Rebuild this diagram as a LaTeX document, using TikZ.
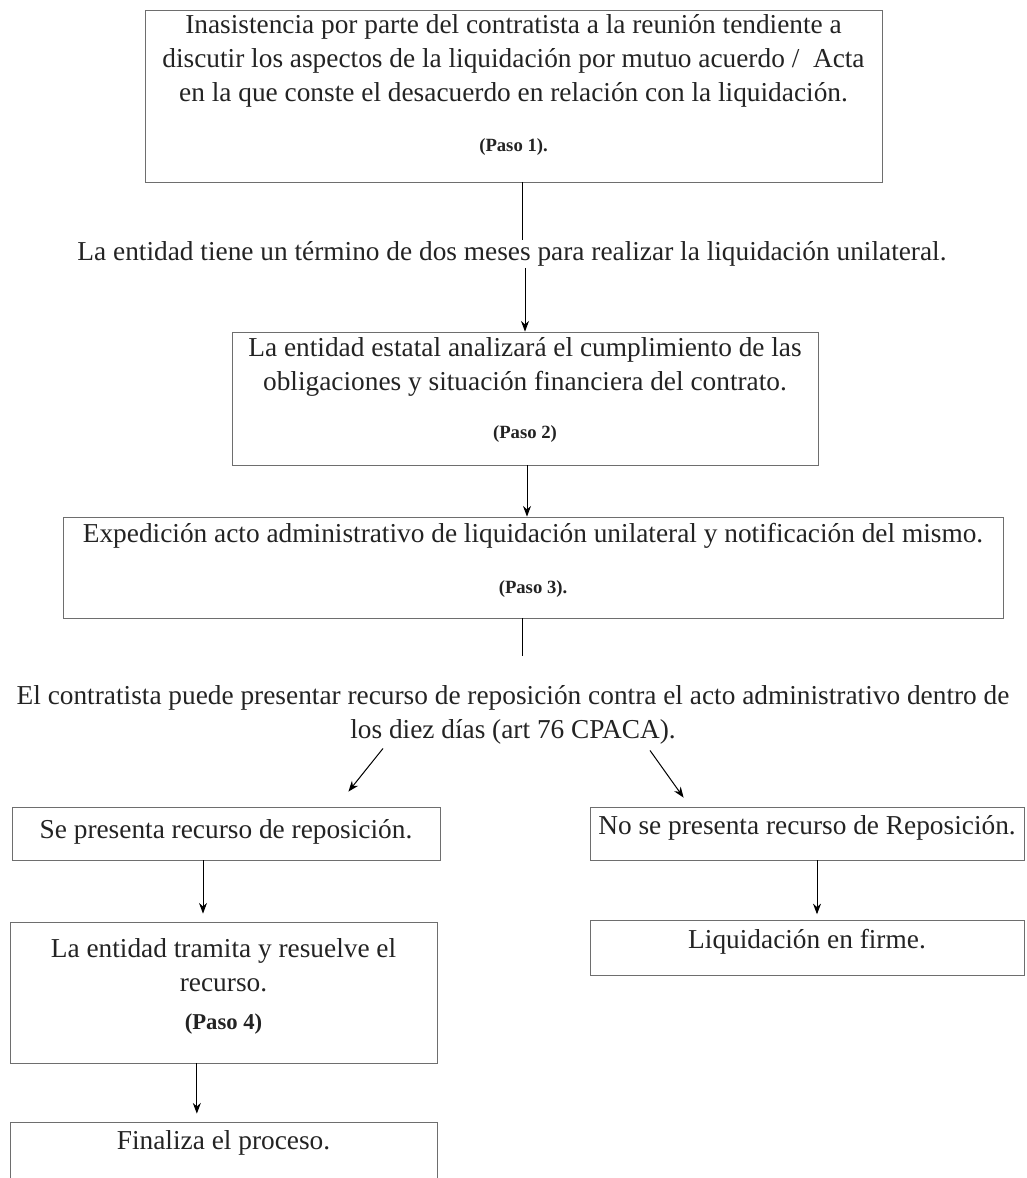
\documentclass[tikz,border=0pt]{standalone}
\usepackage{fontspec}
\setmainfont{Liberation Serif}
\usetikzlibrary{arrows.meta}

\tikzset{every picture/.style={line width=0.75pt}}
\tikzset{
  caja/.style={draw={rgb, 255:red, 110; green, 110; blue, 110}, line width=0.6pt, inner sep=0pt},
  texto/.style={inner sep=0.75pt, align=center, text={rgb, 255:red, 35; green, 35; blue, 35}, font=\fontsize{20.5}{25.5}\selectfont},
  pasito/.style={inner sep=0.75pt, text={rgb, 255:red, 35; green, 35; blue, 35}, font=\fontsize{14}{16}\selectfont\bfseries},
  flecha/.style={-{Stealth[length=8pt,width=6pt]}},
}

\begin{document}
\begin{tikzpicture}[x=0.75pt,y=0.75pt,yscale=-1,xscale=1]
\useasboundingbox (0,0) rectangle (1026,1178);

%Shape: Rectangle [paso 1]
\node [caja, minimum width=552.75pt, minimum height=129pt] (paso1) at (513.5,96) {};
% Text Node
\node [texto] (paso1txt) at (513.5,61) {Inasistencia por parte del contratista a la reunión tendiente a\\discutir los aspectos de la liquidación por mutuo acuerdo / \ Acta\\en la que conste el desacuerdo en relación con la liquidación.};
% Text Node
\node [pasito] (paso1num) at (513.5,147) {(Paso 1).};

% Text Node
\node [texto] (plazo) at (512,254) {La entidad tiene un término de dos meses para realizar la liquidación unilateral.};

%Shape: Rectangle [paso 2]
\node [caja, minimum width=439.5pt, minimum height=99.75pt] (paso2) at (525,398.5) {};
% Text Node
\node [texto] (paso2txt) at (525,367) {La entidad estatal analizará el cumplimiento de las\\obligaciones y situación financiera del contrato.};
% Text Node
\node [pasito] (paso2num) at (525,434) {(Paso 2)};

%Shape: Rectangle [paso 3]
\node [caja, minimum width=705pt, minimum height=75.75pt] (paso3) at (533,567.5) {};
% Text Node
\node [texto] (paso3txt) at (533,536) {Expedición acto administrativo de liquidación unilateral y notificación del mismo.};
% Text Node
\node [pasito] (paso3num) at (533,589) {(Paso 3).};

% Text Node
\node [texto] (recurso) at (513,715) {El contratista puede presentar recurso de reposición contra el acto administrativo dentro de\\los diez días (art 76 CPACA).};

%Shape: Rectangle [si]
\node [caja, minimum width=321pt, minimum height=39.75pt] (presenta) at (226,833.5) {};
% Text Node
\node [texto] (presentatxt) at (226,832) {Se presenta recurso de reposición.};

%Shape: Rectangle [no]
\node [caja, minimum width=325.5pt, minimum height=39.75pt] (nopresenta) at (807,833.5) {};
% Text Node
\node [texto] (nopresentatxt) at (807,828) {No se presenta recurso de Reposición.};

%Shape: Rectangle [paso 4]
\node [caja, minimum width=320.25pt, minimum height=105.75pt] (tramita) at (223.5,992.5) {};
% Text Node
\node [texto] (tramitatxt) at (223.5,965) {La entidad tramita y resuelve el\\recurso.};
% Text Node
\node [texto, font=\fontsize{17}{20}\selectfont\bfseries] (tramitanum) at (223.5,1024) {(Paso 4)};

%Shape: Rectangle [fin]
\node [caja, minimum width=320.25pt, minimum height=58.5pt] (fin) at (223.5,1161) {};
% Text Node
\node [texto] (fintxt) at (223.5,1143) {Finaliza el proceso.};

%Shape: Rectangle [firme]
\node [caja, minimum width=325.5pt, minimum height=41.25pt] (firme) at (807,947.5) {};
% Text Node
\node [texto] (firmetxt) at (807,942) {Liquidación en firme.};

%Straight Lines
\draw ([xshift=6.4pt]paso1.south) -- ([xshift=6.4pt]paso1.south |- plazo.north) ;
\draw [flecha] (plazo.south -| paso2.north) -- (paso2.north) ;
\draw [flecha] ([xshift=1.5pt]paso2.south) -- ([xshift=1.5pt]paso2.south |- paso3.north) ;
\draw [shorten >=21pt] ([xshift=-8.25pt]paso3.south) -- ([xshift=-8.25pt]paso3.south |- recurso.north) ;
\draw [flecha] ([xshift=-97.5pt,yshift=1.9pt]recurso.south) -- ([xshift=-69pt,yshift=-11.25pt]presenta.north east) ;
\draw [flecha] ([xshift=102.75pt,yshift=3.4pt]recurso.south) -- ([xshift=70.5pt,yshift=-6.75pt]nopresenta.north west) ;
\draw [flecha, shorten >=6pt] ([xshift=-17.25pt]presenta.south) -- ([xshift=-17.25pt]presenta.south |- tramita.north) ;
\draw [flecha, shorten >=6pt] ([xshift=-20pt]tramita.south) -- ([xshift=-20pt]tramita.south |- fin.north) ;
\draw [flecha, shorten >=4pt] ([xshift=7.5pt]nopresenta.south) -- ([xshift=7.5pt]nopresenta.south |- firme.north) ;

\end{tikzpicture}
\end{document}
